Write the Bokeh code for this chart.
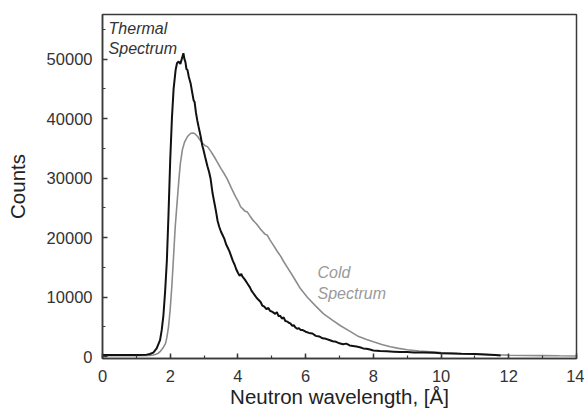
from bokeh.plotting import figure
from bokeh.models import SingleIntervalTicker, Range1d
from bokeh.core.properties import value
from bokeh.embed import file_html
from bokeh.resources import INLINE

# Thermal neutron spectrum (wavelength in Å, counts)
thermal_wavelength = [
    0.0, 0.5, 1.0, 1.3, 1.4, 1.5, 1.6, 1.7, 1.75, 1.8, 1.85, 1.9, 1.95, 2.0, 2.05,
    2.1, 2.16, 2.2, 2.25, 2.3, 2.35, 2.39, 2.42, 2.45, 2.48, 2.51, 2.55, 2.6, 2.65,
    2.69, 2.72, 2.76, 2.8, 2.84, 2.9, 2.95, 2.98, 3.03, 3.1, 3.15, 3.19, 3.25, 3.3,
    3.35, 3.4, 3.45, 3.5, 3.55, 3.6, 3.65, 3.7, 3.75, 3.8, 3.85, 3.9, 3.95, 4.0,
    4.05, 4.1, 4.13, 4.2, 4.28, 4.35, 4.4, 4.45, 4.5, 4.55, 4.6, 4.67, 4.72, 4.78,
    4.84, 4.9, 4.95, 5.0, 5.05, 5.1, 5.15, 5.2, 5.25, 5.3, 5.35, 5.4, 5.46, 5.5,
    5.55, 5.6, 5.65, 5.7, 5.75, 5.8, 5.85, 5.9, 6.0, 6.1, 6.2, 6.3, 6.4, 6.5, 6.6,
    6.7, 6.8, 6.9, 7.0, 7.1, 7.2, 7.3, 7.4, 7.5, 7.6, 7.7, 7.8, 7.9, 8.0, 8.2, 8.4,
    8.6, 8.8, 9.0, 9.2, 9.5, 9.8, 10.0, 10.3, 10.6, 11.0, 11.3, 11.6, 11.76,
]
thermal_counts = [
    300, 300, 300, 350, 450, 700, 1400, 2800, 4500, 7000, 11000, 16000, 24000, 33000, 40000,
    45000, 48200, 49300, 49600, 49200, 50200, 51000, 50000, 49500, 48300, 48200, 47000, 46000, 44400,
    43100, 42800, 41000, 39700, 38600, 37000, 35400, 34800, 33600, 32000, 31000, 30000, 27500, 26000,
    24500, 22800, 21800, 21000, 20400, 19800, 18900, 18300, 17700, 16900, 16100, 15500, 14700, 14100,
    13600, 13900, 13500, 13000, 12300, 11700, 11100, 10700, 10300, 9900, 9600, 9200, 8600, 8400,
    8000, 8200, 7700, 7600, 7400, 7200, 7500, 6800, 6900, 6400, 6600, 6000, 5900, 5700,
    5600, 5200, 5300, 4900, 4700, 4800, 4500, 4500, 4200, 4000, 3900, 3500, 3400, 3100, 3000,
    2800, 2600, 2500, 2250, 2100, 2200, 1900, 1800, 1700, 1600, 1400, 1350, 1200, 1050, 950, 900,
    850, 800, 800, 700, 700, 650, 600, 550, 500, 450, 380, 300, 200,
]

# Cold neutron spectrum (wavelength in Å, counts)
cold_wavelength = [
    0.0, 1.0, 1.4, 1.5, 1.6, 1.65, 1.7, 1.75, 1.8, 1.86, 1.9, 1.95, 2.0, 2.05, 2.1,
    2.15, 2.21, 2.26, 2.3, 2.36, 2.42, 2.51, 2.6, 2.66, 2.72, 2.81, 2.88, 2.95, 3.02,
    3.1, 3.2, 3.3, 3.4, 3.5, 3.6, 3.69, 3.8, 3.93, 4.0, 4.08, 4.15, 4.2, 4.28, 4.35,
    4.45, 4.55, 4.67, 4.75, 4.8, 4.87, 4.95, 5.05, 5.15, 5.26, 5.35, 5.45, 5.55, 5.7,
    5.85, 6.05, 6.3, 6.53, 6.8, 7.03, 7.3, 7.53, 7.8, 8.0, 8.25, 8.5, 8.75, 9.0, 9.35,
    9.7, 10.0, 10.5, 11.0, 11.5, 12.0, 12.5, 13.0, 13.5, 14.0,
]
cold_counts = [
    150, 150, 200, 280, 450, 600, 850, 1200, 1600, 2200, 3200, 5000, 8000, 12000, 17000,
    22000, 26400, 30000, 32500, 34800, 36000, 37000, 37500, 37600, 37500, 37000, 36400, 35900, 35500,
    35300, 34500, 33600, 32600, 31600, 30700, 29800, 28400, 26900, 26200, 25200, 24800, 24500, 24300, 23700,
    22900, 22300, 21400, 20900, 20600, 20400, 19600, 18700, 17800, 16900, 16000, 15100, 14200, 12800,
    11400, 10000, 8500, 7200, 6100, 5200, 4300, 3500, 2900, 2500, 2050, 1670, 1400, 1170, 950,
    840, 720, 550, 430, 340, 270, 210, 180, 150, 130,
]

# Curve annotations
thermal_note = ["Thermal", "Spectrum"]
thermal_note_x = [0.18, 0.18]
thermal_note_y = [55150, 51800]
cold_note = ["Cold", "Spectrum"]
cold_note_x = [6.35, 6.35]
cold_note_y = [14150, 10600]

FONT = "Liberation Sans"
AXIS_COLOR = "#3a3a3a"

p = figure(
    width=584, height=412,
    x_range=Range1d(0, 14), y_range=Range1d(-300, 57500),
    output_backend="svg", toolbar_location=None,
    min_border_left=102, min_border_right=8, min_border_top=14, min_border_bottom=54,
)
p.grid.visible = False
p.outline_line_color = AXIS_COLOR
p.outline_line_width = 1.5
p.background_fill_color = "white"
p.border_fill_color = "white"

p.line(cold_wavelength, cold_counts, line_color="#8c8c8c", line_width=1.6)
p.line(thermal_wavelength, thermal_counts, line_color="#111111", line_width=2)

p.text(x=thermal_note_x, y=thermal_note_y, text=thermal_note,
       text_font=value(FONT), text_font_style="italic", text_font_size="16px",
       text_color="#333333", text_baseline="middle", text_align="left")
p.text(x=cold_note_x, y=cold_note_y, text=cold_note,
       text_font=value(FONT), text_font_style="italic", text_font_size="16px",
       text_color="#9a9a9a", text_baseline="middle", text_align="left")

p.xaxis.ticker = SingleIntervalTicker(interval=2, num_minor_ticks=2)
p.yaxis.ticker = SingleIntervalTicker(interval=10000, num_minor_ticks=2)
p.xaxis.axis_label = "Neutron wavelength, [Å]"
p.yaxis.axis_label = "Counts"

for ax in (p.xaxis, p.yaxis):
    ax.axis_line_color = AXIS_COLOR
    ax.axis_line_width = 1.5
    ax.major_tick_line_color = AXIS_COLOR
    ax.minor_tick_line_color = AXIS_COLOR
    ax.major_tick_line_width = 1.5
    ax.minor_tick_line_width = 1.2
    ax.major_tick_in = 5
    ax.major_tick_out = 0
    ax.minor_tick_in = 3
    ax.minor_tick_out = 0
    ax.major_label_text_font = FONT
    ax.major_label_text_font_size = "16.5px"
    ax.major_label_text_color = "#333333"
    ax.axis_label_text_font = FONT
    ax.axis_label_text_font_size = "20.5px"
    ax.axis_label_text_font_style = "normal"
    ax.axis_label_text_color = "#222222"

p.xaxis.major_label_standoff = 11
p.yaxis.major_label_standoff = 10
p.xaxis.axis_label_standoff = 0
p.yaxis.axis_label_standoff = 15

open("out.html", "w").write(file_html(p, INLINE))
